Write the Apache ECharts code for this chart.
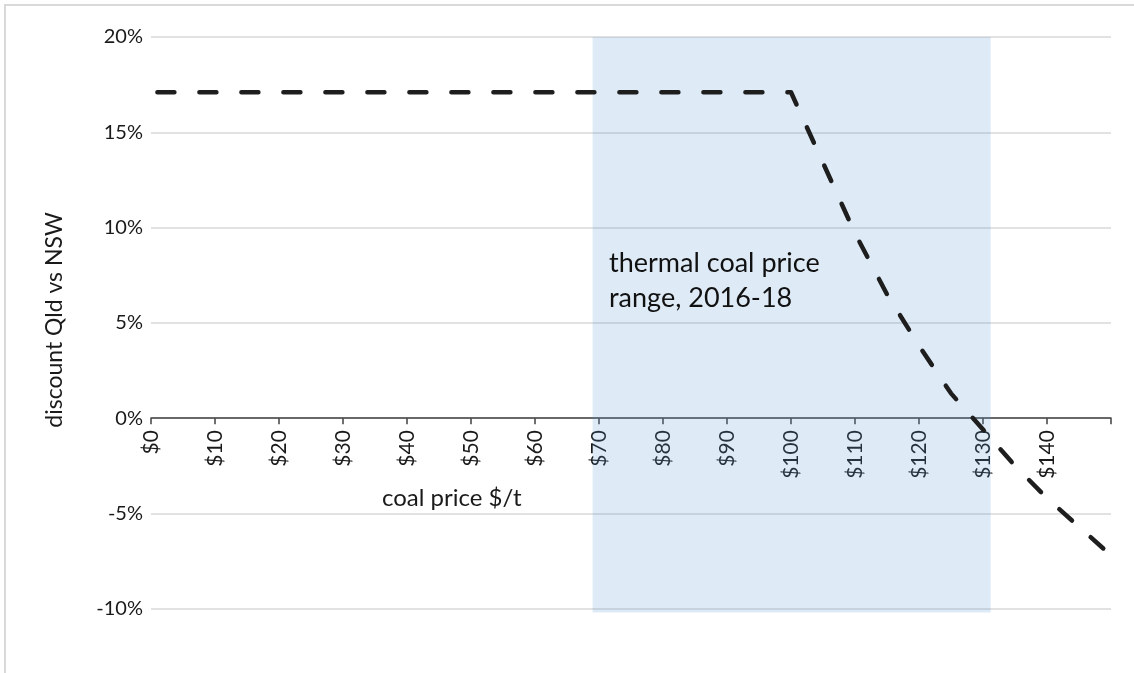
<!DOCTYPE html>
<html>
<head>
<meta charset="utf-8">
<script src="https://cdn.jsdelivr.net/npm/echarts@6/dist/echarts.min.js"></script>
<style>html,body{margin:0;padding:0;background:#fff;}#c{width:1134px;height:673px;}</style>
</head>
<body>
<div id="c"></div>
<script>
// Data
const coalPrice = [1, 100, 105, 110, 115, 120, 125, 130, 135, 140, 145, 149];
const discountPct = [17.1, 17.1, 13.4, 9.7, 6.5, 3.8, 1.3, -0.6, -2.5, -4.2, -5.7, -6.9];
const bandX = [69, 131.2];       // thermal coal price range, 2016-18 ($/t)
const bandY = [-10.2, 20];       // vertical extent of the shaded band (%)
const xTicks = [0, 10, 20, 30, 40, 50, 60, 70, 80, 90, 100, 110, 120, 130, 140];
const yTicks = [-10, -5, 0, 5, 10, 15, 20];

const FONT = 'Lato, "Open Sans", sans-serif';
const chart = echarts.init(document.getElementById('c'), null, {renderer: 'canvas'});
const lineData = coalPrice.map((x, i) => [x, discountPct[i]]);

const Y_MIN = -15, Y_MAX = 20, GRID_TOP = 37, GRID_BOTTOM = -31;
const plotH = 673 - GRID_TOP - GRID_BOTTOM;
const zeroOffset = -plotH * (0 - Y_MIN) / (Y_MAX - Y_MIN); // move the x axis up to y = 0

chart.setOption({
  animation: false,
  backgroundColor: '#fff',
  grid: {left: 151, right: 23, top: GRID_TOP, bottom: GRID_BOTTOM, containLabel: false, outerBoundsMode: 'none'},
  xAxis: {
    type: 'value', min: 0, max: 150, interval: 10, position: 'bottom', offset: zeroOffset,
    axisLine: {show: true, onZero: false, lineStyle: {color: '#404040', width: 1.5}},
    axisTick: {show: true, length: 6, lineStyle: {color: '#404040', width: 1.5}},
    axisLabel: {
      show: true, rotate: 90, margin: 12, fontSize: 21, fontFamily: FONT, color: '#1a1a1a',
      hideOverlap: false, showMinLabel: true, showMaxLabel: true,
      formatter: function (v) { return xTicks.indexOf(v) >= 0 ? '$' + v : ''; }
    },
    splitLine: {show: false}
  },
  yAxis: {
    type: 'value', min: Y_MIN, max: Y_MAX, interval: 5,
    axisLine: {show: false}, axisTick: {show: false},
    axisLabel: {
      margin: 8, fontSize: 20, fontFamily: FONT, color: '#1a1a1a',
      formatter: function (v) { return yTicks.indexOf(v) >= 0 ? v + '%' : ''; }
    },
    splitLine: {show: true, lineStyle: {color: '#d9d9d9', width: 1.5}}
  },
  series: [
    {
      type: 'line', data: lineData, z: 2, symbol: 'none', smooth: false,
      lineStyle: {color: '#1e1e1e', width: 4.5, type: [17, 25], cap: 'round', join: 'round'}
    },
    {
      type: 'line', data: [], z: 5, symbol: 'none', silent: true,
      markArea: {
        silent: true,
        itemStyle: {color: 'rgba(91,155,213,0.2)'},
        data: [[{xAxis: bandX[0], yAxis: bandY[0]}, {xAxis: bandX[1], yAxis: bandY[1]}]]
      }
    }
  ],
  graphic: [
    {type: 'rect', z: -10, silent: true, shape: {x: 5, y: 5, width: 1300, height: 900},
     style: {fill: 'transparent', stroke: '#d9d9d9', lineWidth: 2}},
    {type: 'text', z: 100, x: 55, y: 320, rotation: Math.PI / 2,
     style: {text: 'discount Qld vs NSW', font: '23px ' + FONT, fill: '#1a1a1a', align: 'center', verticalAlign: 'middle'}},
    {type: 'text', z: 100, x: 382, y: 498,
     style: {text: 'coal price $/t', font: '24px ' + FONT, fill: '#1a1a1a', align: 'left', verticalAlign: 'middle'}},
    {type: 'text', z: 100, x: 609, y: 246,
     style: {text: 'thermal coal price\nrange, 2016-18', font: '27px ' + FONT, lineHeight: 35, fill: '#111', align: 'left', verticalAlign: 'top'}}
  ]
});
</script>
</body>
</html>
